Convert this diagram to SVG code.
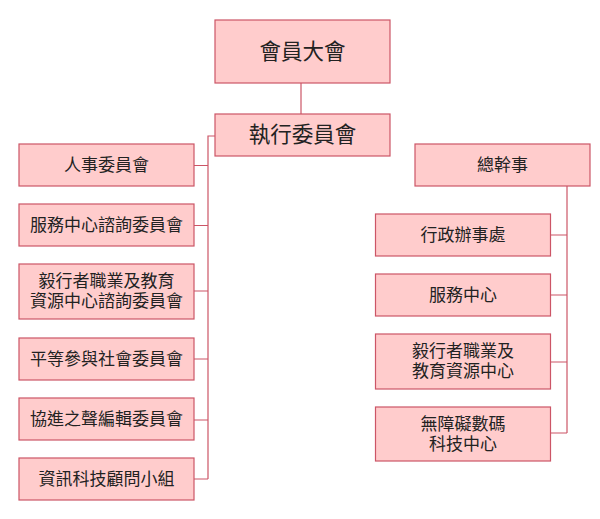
<svg xmlns="http://www.w3.org/2000/svg" width="600" height="519" viewBox="0 0 600 519">
<style>
.box{fill:#FFCCCC;stroke:#CC5566;stroke-width:1.2}
.t{font-family:"Liberation Sans","Noto Sans CJK TC",sans-serif;fill:#222;text-anchor:middle;dominant-baseline:central;font-size:17px}
.big{font-size:21.5px}
.ln{fill:none;stroke:#CC5566;stroke-width:1.2}
</style>
<rect width="600" height="519" fill="#fff"/>
<g id="connectors">
<path class="ln" d="M301,83V114"/>
<path class="ln" d="M215,136H208V479"/>
<path class="ln" d="M194,165.5H208M194,225.5H208M194,291H208M194,359H208M194,420H208M194,479H208"/>
<path class="ln" d="M567,186V433"/>
<path class="ln" d="M551,235H567M551,295H567M551,362H567M551,433H567"/>
</g>
<g id="n1"><rect class="box" x="215" y="20" width="175" height="63"/><text class="t big" x="302.5" y="52">會員大會</text></g>
<g id="n2"><rect class="box" x="215" y="114" width="175" height="42"/><text class="t big" x="302.5" y="135">執行委員會</text></g>
<g id="l1"><rect class="box" x="19" y="144" width="175" height="42"/><text class="t" x="106.5" y="165">人事委員會</text></g>
<g id="l2"><rect class="box" x="19" y="204" width="175" height="42"/><text class="t" x="106.5" y="225">服務中心諮詢委員會</text></g>
<g id="l3"><rect class="box" x="19" y="264" width="175" height="55"/><text class="t" x="106.5" y="281.5">毅行者職業及教育</text><text class="t" x="106.5" y="301.5">資源中心諮詢委員會</text></g>
<g id="l4"><rect class="box" x="19" y="338" width="175" height="42"/><text class="t" x="106.5" y="359">平等參與社會委員會</text></g>
<g id="l5"><rect class="box" x="19" y="398" width="175" height="42"/><text class="t" x="106.5" y="419">協進之聲編輯委員會</text></g>
<g id="l6"><rect class="box" x="19" y="458" width="175" height="42"/><text class="t" x="106.5" y="479">資訊科技顧問小組</text></g>
<g id="r0"><rect class="box" x="415" y="144" width="175" height="42"/><text class="t" x="502.5" y="165">總幹事</text></g>
<g id="r1"><rect class="box" x="375.5" y="214" width="175" height="42"/><text class="t" x="463" y="235">行政辦事處</text></g>
<g id="r2"><rect class="box" x="375.5" y="274" width="175" height="42"/><text class="t" x="463" y="295">服務中心</text></g>
<g id="r3"><rect class="box" x="375.5" y="334" width="175" height="55"/><text class="t" x="463" y="351.5">毅行者職業及</text><text class="t" x="463" y="371.5">教育資源中心</text></g>
<g id="r4"><rect class="box" x="375.5" y="407" width="175" height="54"/><text class="t" x="463" y="424">無障礙數碼</text><text class="t" x="463" y="444">科技中心</text></g>
</svg>
